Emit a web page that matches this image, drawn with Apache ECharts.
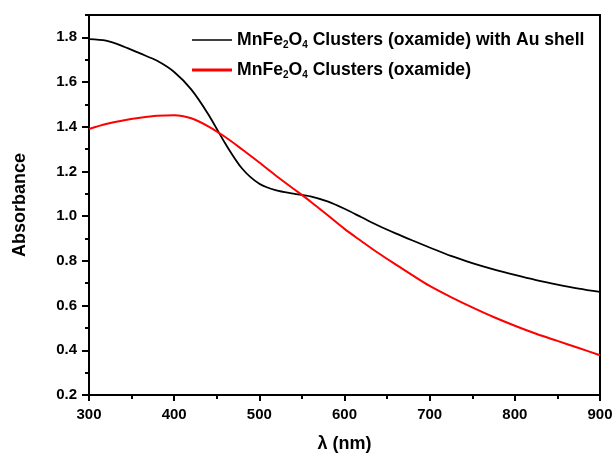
<!DOCTYPE html>
<html><head><meta charset="utf-8">
<script src="https://cdn.jsdelivr.net/npm/echarts@6/dist/echarts.min.js"></script>
<style>html,body{margin:0;padding:0;background:#fff}#c{width:613px;height:453px}</style>
</head><body><div id="c"></div>
<script>
const wavelengths = [300,320,340,360,380,400,420,440,460,480,500,520,540,560,580,600,620,640,660,680,700,725,750,775,800,825,850,875,900];
const auShell = [1.792,1.785,1.760,1.728,1.695,1.645,1.567,1.456,1.325,1.212,1.145,1.115,1.101,1.089,1.066,1.033,0.995,0.957,0.923,0.891,0.860,0.822,0.790,0.762,0.737,0.714,0.694,0.676,0.661];
const oxamide = [1.390,1.412,1.428,1.440,1.449,1.452,1.438,1.402,1.354,1.298,1.240,1.180,1.123,1.066,1.005,0.943,0.888,0.834,0.784,0.735,0.688,0.638,0.592,0.549,0.510,0.474,0.442,0.410,0.378];
const seriesNames = ['MnFe2O4 Clusters (oxamide) with Au shell','MnFe2O4 Clusters (oxamide)'];
const yMajorTicks = [0.2,0.4,0.6,0.8,1.0,1.2,1.4,1.6,1.8];
const yMinorTicks = [0.3,0.5,0.7,0.9,1.1,1.3,1.5,1.7,1.9];
const xTitle = 'λ (nm)';
const yTitle = 'Absorbance';

const FONT = 'Liberation Sans';
const chart = echarts.init(document.getElementById('c'), null, {renderer:'canvas'});
const pairs = (xs, ys) => xs.map((x,i)=>[x, ys[i]]);
const lbl = {color:'#000', fontFamily:FONT, fontWeight:'bold', fontSize:15};
const titleStyle = {color:'#000', fontFamily:FONT, fontWeight:'bold', fontSize:18};
chart.setOption({
  backgroundColor:'#fff',
  animation:false,
  grid:{left:89, right:13, top:15, bottom:58, containLabel:false, outerBoundsMode:'none'},
  legend:{
    left:192, top:31, padding:0, orient:'vertical', itemWidth:40, itemHeight:14, itemGap:11,
    selectedMode:false,
    data:[
      {name:seriesNames[0], icon:'path://M0,0M40,14M0,6.2h40v1.6h-40z', itemStyle:{color:'#000'}},
      {name:seriesNames[1], icon:'path://M0,0M40,14M0,5.6h40v2.8h-40z', itemStyle:{color:'#ff0000'}}
    ],
    formatter: name => name.replace('MnFe2O4', 'MnFe{s|2}O{s|4}'),
    textStyle:{color:'#000', fontFamily:FONT, fontWeight:'bold', fontSize:17.6,
      rich:{s:{fontSize:10, fontFamily:FONT, fontWeight:'bold', color:'#000', padding:[10,0,0,0]}}}
  },
  xAxis:[{
    type:'value', min:300, max:900, interval:100,
    name:xTitle, nameLocation:'middle', nameGap:40,
    nameTextStyle:titleStyle,
    axisLine:{lineStyle:{color:'#000', width:2}},
    axisTick:{inside:false, length:6, lineStyle:{color:'#000', width:2}},
    minorTick:{show:true, splitNumber:2, length:4, lineStyle:{color:'#000', width:2}},
    axisLabel:Object.assign({margin:12}, lbl),
    splitLine:{show:false}
  },{
    type:'value', position:'top', min:300, max:900,
    axisLine:{lineStyle:{color:'#000', width:2}},
    axisTick:{show:false}, axisLabel:{show:false}, splitLine:{show:false}
  }],
  yAxis:[{
    type:'value', min:0.2, max:1.9, interval:0.2,
    name:yTitle, nameLocation:'middle', nameGap:60,
    nameTextStyle:titleStyle,
    axisLine:{lineStyle:{color:'#000', width:2}},
    axisTick:{length:7, customValues:yMajorTicks, lineStyle:{color:'#000', width:2}},
    axisLabel:Object.assign({margin:12, customValues:yMajorTicks, formatter:v=>v.toFixed(1)}, lbl),
    splitLine:{show:false}
  },{
    type:'value', position:'left', min:0.2, max:1.9,
    axisLine:{show:false},
    axisTick:{length:4, customValues:yMinorTicks, lineStyle:{color:'#000', width:2}},
    axisLabel:{show:false}, splitLine:{show:false}
  },{
    type:'value', position:'right', min:0.2, max:1.9,
    axisLine:{show:true, lineStyle:{color:'#000', width:2}},
    axisTick:{show:false}, axisLabel:{show:false}, splitLine:{show:false}
  }],
  series:[{
    name:seriesNames[0], type:'line', data:pairs(wavelengths, auShell),
    smooth:0.3, symbol:'none', lineStyle:{color:'#000', width:1.8}, itemStyle:{color:'#000'}
  },{
    name:seriesNames[1], type:'line', data:pairs(wavelengths, oxamide),
    smooth:0.3, symbol:'none', lineStyle:{color:'#ff0000', width:2}, itemStyle:{color:'#ff0000'}
  }]
});
</script></body></html>
